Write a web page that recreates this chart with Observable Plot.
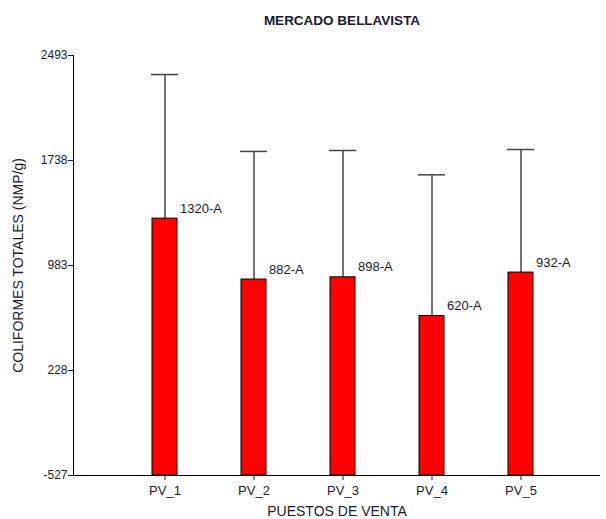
<!DOCTYPE html>
<html>
<head>
<meta charset="utf-8">
<script src="https://cdn.jsdelivr.net/npm/d3@7"></script>
<script src="https://cdn.jsdelivr.net/npm/@observablehq/plot@0.6"></script>
<style>
  html, body { margin: 0; padding: 0; background: #fff; }
  #wrap { position: relative; width: 606px; height: 519px; font-family: "Liberation Sans", Arial, sans-serif; }
  #title { position: absolute; top: 13px; left: 0; width: 684px; text-align: center; font-weight: bold; font-size: 13.5px; color: #1a1a2e; }
  svg { display: block; }
</style>
</head>
<body>
<div id="wrap"><div id="title">MERCADO BELLAVISTA</div></div>
<script>
const categories = ["PV_1", "PV_2", "PV_3", "PV_4", "PV_5"];
const means = [1320, 882, 898, 620, 932];
const upper = [2356, 1803, 1810, 1635, 1817];
const letters = ["A", "A", "A", "A", "A"];
const yTicks = [-527, 228, 983, 1738, 2493];
const yDomain = [-527, 2493];

const data = categories.map((c, i) => ({
  cat: c, mean: means[i], up: upper[i], label: `${means[i]}-${letters[i]}`
}));

const textColor = "#1a1a2e";

const chart = Plot.plot({
  width: 606,
  height: 519,
  marginTop: 55,
  marginBottom: 44,
  marginLeft: 73,
  marginRight: 6,
  style: { fontFamily: '"Liberation Sans", Arial, sans-serif', color: textColor, background: "transparent" },
  x: { type: "band", domain: categories, range: [86, 598], padding: 0.72 },
  y: { domain: yDomain },
  marks: [
    Plot.ruleX(data, { x: "cat", y1: "mean", y2: "up", stroke: "#444", strokeWidth: 1.5 }),
    Plot.tickY(data, { x: "cat", y: "up", stroke: "#444", strokeWidth: 1.5, insetLeft: -1, insetRight: -1 }),
    Plot.barY(data, { x: "cat", y1: yDomain[0], y2: "mean", fill: "#ff0000", stroke: "#000", strokeWidth: 1 }),
    Plot.text(data, { x: "cat", y: "mean", text: "label", textAnchor: "start", dx: 15, dy: -10, fontSize: 13, fill: textColor }),
    Plot.ruleY([yDomain[0]], { stroke: "#000", strokeWidth: 1 }),
    Plot.frame({ anchor: "left", stroke: "#000", strokeWidth: 1 }),
    Plot.axisY({ ticks: yTicks, tickFormat: d => String(d), tickSize: 5, tickPadding: 1, fontSize: 12,
      label: "COLIFORMES TOTALES (NMP/g)", labelArrow: "none", labelAnchor: "center", labelOffset: 60 }),
    Plot.axisX({ tickSize: 5, tickPadding: 5, fontSize: 13, label: "PUESTOS DE VENTA", labelAnchor: "center", labelOffset: 40 })
  ]
});
chart.querySelectorAll('g[aria-label="y-axis label"] text, g[aria-label="x-axis label"] text').forEach(t => {
  t.setAttribute("font-size", "14");
  t.textContent = t.textContent.replace(/\s*[↑↓→←]\s*/g, "");
});
document.getElementById("wrap").appendChild(chart);
</script>
</body>
</html>
